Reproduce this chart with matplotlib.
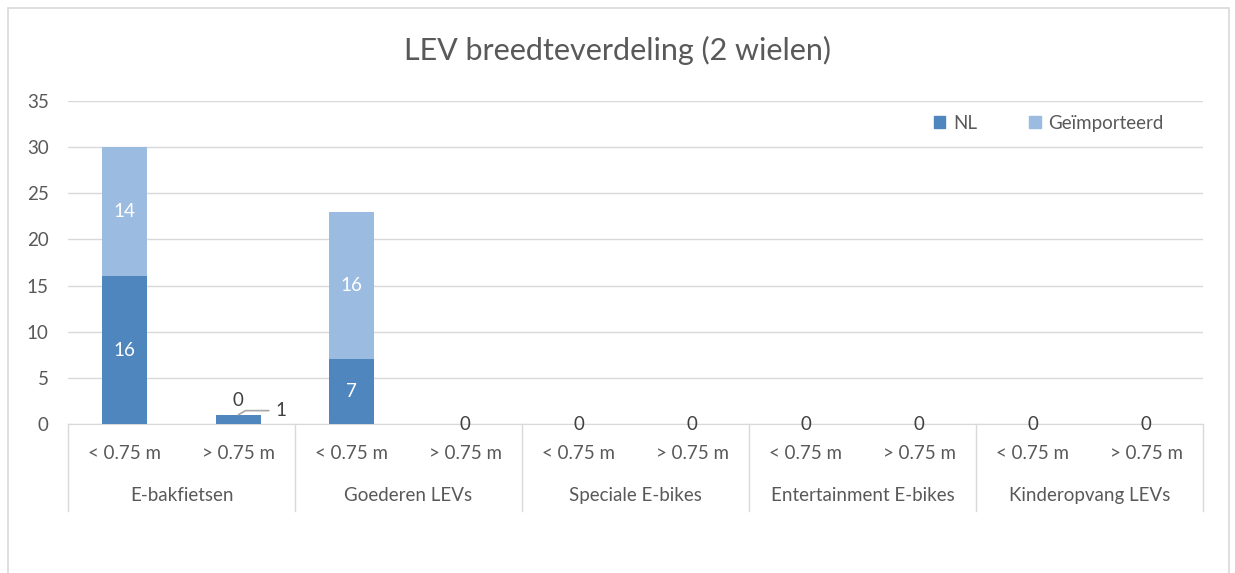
import numpy as np
import matplotlib.pyplot as plt
from matplotlib.patches import Patch, Rectangle
from matplotlib.lines import Line2D

plt.rcParams['font.family'] = ['Lato', 'DejaVu Sans']

groups = ['E-bakfietsen', 'Goederen LEVs', 'Speciale E-bikes',
          'Entertainment E-bikes', 'Kinderopvang LEVs']
widths = ['< 0.75 m', '> 0.75 m']
nl = [16, 1, 7, 0, 0, 0, 0, 0, 0, 0]
imported = [14, 0, 16, 0, 0, 0, 0, 0, 0, 0]

c_nl = '#4F86BE'
c_imp = '#9BBBE0'
grey = '#595959'
light = '#D9D9D9'
fs = 13.5

fig = plt.figure(figsize=(12.35, 5.73), dpi=100)
ax = fig.add_axes([0.0551, 0.260, 0.9190, 0.5637])

# chart border
fig.patches.append(Rectangle((0.0065, -0.01), 0.989, 0.996, transform=fig.transFigure,
                             fill=False, edgecolor=light, linewidth=1.2))

x = np.arange(len(nl))
ax.bar(x, nl, width=0.4, color=c_nl, zorder=3)
ax.bar(x, imported, width=0.4, bottom=nl, color=c_imp, zorder=3)

ax.set_xlim(-0.5, len(nl) - 0.5)
ax.set_ylim(0, 35)
ax.set_yticks(range(0, 36, 5))
ax.yaxis.grid(True, color=light, linewidth=1)
ax.set_axisbelow(True)
ax.tick_params(axis='y', length=0, labelsize=fs, labelcolor=grey, pad=14)
ax.tick_params(axis='x', length=0)
ax.set_xticks([])
for s in ['top', 'right', 'left']:
    ax.spines[s].set_visible(False)
ax.spines['bottom'].set_color(light)

# value labels
for i in range(len(nl)):
    if nl[i] >= 5:
        ax.text(i, nl[i] / 2, str(nl[i]), ha='center', va='center', color='white', fontsize=fs, zorder=4)
    if imported[i] > 0:
        ax.text(i, nl[i] + imported[i] / 2, str(imported[i]), ha='center', va='center',
                color='white', fontsize=fs, zorder=4)
    if nl[i] == 0 and imported[i] == 0:
        ax.text(i, 0, '0', ha='center', va='center', color='#404040', fontsize=fs, zorder=4)
    elif imported[i] == 0:
        ax.annotate('0', (i, nl[i]), xytext=(0, 4), textcoords='offset points',
                    ha='center', va='bottom', color='#404040', fontsize=fs)
    if 0 < nl[i] < 5:
        ax.annotate(str(nl[i]), (i, nl[i]), xytext=(27, 3), textcoords='offset points',
                    ha='left', va='center', color='#404040', fontsize=fs,
                    arrowprops=dict(arrowstyle='-', color='#A6A6A6', lw=1.2,
                                    connectionstyle='angle,angleA=180,angleB=-150,rad=0',
                                    shrinkA=3, shrinkB=0))

# category axis labels
tr = ax.get_xaxis_transform()
for i in range(len(nl)):
    ax.text(i, -0.09, widths[i % 2], transform=tr, ha='center', va='center',
            fontsize=fs, color=grey)
for g in range(len(groups)):
    ax.text(2 * g + 0.5, -0.22, groups[g], transform=tr, ha='center', va='center',
            fontsize=fs, color=grey)
for b in range(len(groups) + 1):
    ax.add_line(Line2D([2 * b - 0.5, 2 * b - 0.5], [0, -0.27], transform=tr,
                       color=light, linewidth=1, clip_on=False))

fig.text(0.5, 0.912, 'LEV breedteverdeling (2 wielen)', ha='center', va='center',
         fontsize=22, color=grey)

handles = [Patch(color=c_nl, label='NL'), Patch(color=c_imp, label='Geïmporteerd')]
ax.legend(handles=handles, ncol=2, frameon=False, loc='upper right',
          bbox_to_anchor=(0.98, 1.01), fontsize=fs, handlelength=0.6, handleheight=0.6,
          handletextpad=0.4, columnspacing=2.8, labelcolor=grey)

fig.savefig('out.png', dpi=100)
